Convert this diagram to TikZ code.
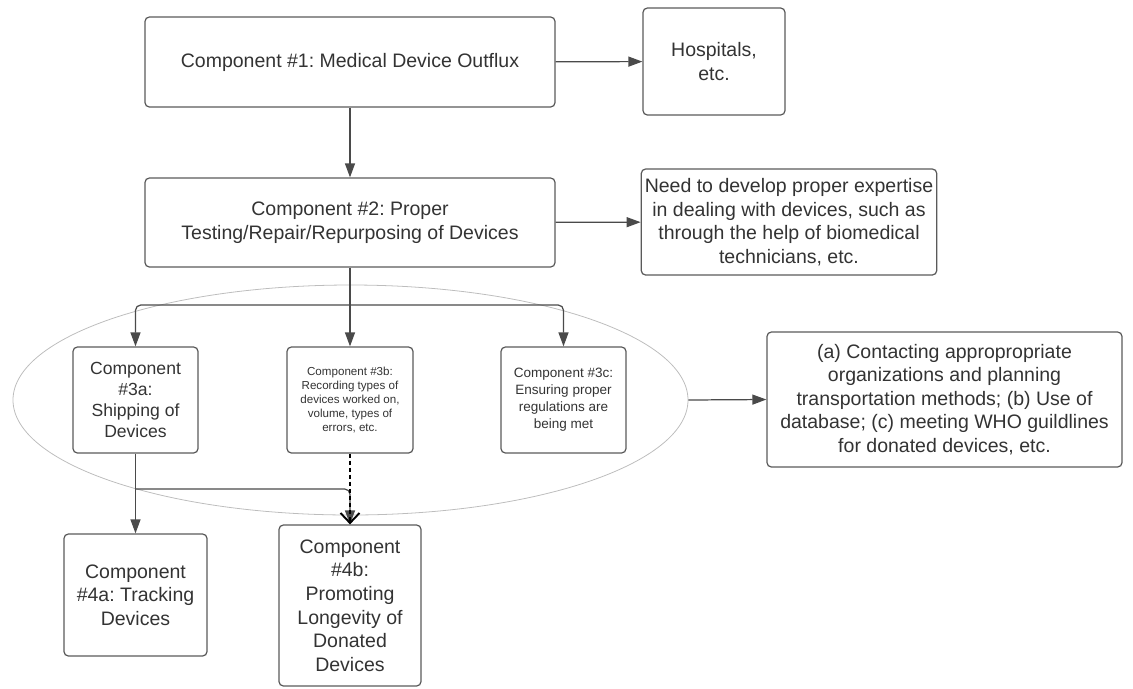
\documentclass[tikz,border=0pt]{standalone}
\usepackage{fontspec}
\setmainfont{Liberation Sans}
\usepackage{xcolor}
\usetikzlibrary{positioning, arrows.meta, shapes.geometric}
\definecolor{txtgray}{HTML}{333333}
\definecolor{linegray}{HTML}{4A4A4A}
\definecolor{boxgray}{HTML}{5A5A5A}
\definecolor{ovalgray}{HTML}{BDBDBD}
\frenchspacing

\begin{document}
\begin{tikzpicture}[
  comp/.style={rectangle, rounded corners=2.5pt, draw=boxgray, line width=0.7pt, align=center, inner sep=2pt, text=txtgray, font=\fontsize{11.1}{13.4}\selectfont},
  midbox/.style={comp, font=\fontsize{10}{12}\selectfont},
  tinybox/.style={comp, font=\fontsize{6.6}{8.1}\selectfont},
  smallbox/.style={comp, font=\fontsize{7.7}{9.7}\selectfont},
  oval/.style={ellipse, draw=ovalgray, line width=0.45pt, minimum width=13.5cm, minimum height=4.6cm},
  ar/.style={-{Triangle[length=2.8mm, width=2.0mm]}, line width=0.7pt, draw=linegray},
  ln/.style={line width=0.7pt, draw=linegray},
  dsh/.style={-{Straight Barb[length=2mm, width=3.8mm, line width=1.1pt]}, line width=0.8pt, draw=black, dash pattern=on 2.5pt off 1.5pt}
]
\useasboundingbox (0,0) rectangle (22.66,-13.76);

% group oval behind the third tier
\node[oval] (grp) at (7.01,-8.0) {};

\node[comp, minimum width=8.2cm, minimum height=1.8cm] (c1) at (7.0,-1.24) {Component \#1: Medical Device Outflux};
\node[comp, minimum width=2.84cm, minimum height=2.14cm] (hosp) at (14.28,-1.23) {Hospitals,\\etc.};

\node[comp, minimum width=8.2cm, minimum height=1.78cm] (c2) at (7.0,-4.45) {Component \#2: Proper\\Testing/Repair/Repurposing of Devices};
\node[comp, minimum width=5.84cm, minimum height=2.12cm] (need) at (15.78,-4.44) {Need to develop proper expertise\\in dealing with devices, such as\\through the help of biomedical\\technicians, etc.};

\node[midbox, minimum width=2.5cm, minimum height=2.12cm] (c3a) at (2.71,-8.0) {Component\\\#3a:\\Shipping of\\Devices};
\node[tinybox, minimum width=2.52cm, minimum height=2.12cm] (c3b) at (7.0,-8.0) {Component \#3b:\\Recording types of\\devices worked on,\\volume, types of\\errors, etc.};
\node[smallbox, minimum width=2.5cm, minimum height=2.12cm] (c3c) at (11.27,-8.0) {Component \#3c:\\Ensuring proper\\regulations are\\being met};

\node[comp, minimum width=7.1cm, minimum height=2.7cm] (plan) at (18.89,-7.99) {(a) Contacting appropropriate\\organizations and planning\\transportation methods; (b) Use of\\database; (c) meeting WHO guildlines\\for donated devices, etc.};

\node[comp, minimum width=2.86cm, minimum height=2.44cm] (c4a) at (2.71,-11.9) {Component\\\#4a: Tracking\\Devices};
\node[comp, minimum width=2.84cm, minimum height=3.22cm] (c4b) at (7.0,-12.11) {Component\\\#4b:\\Promoting\\Longevity of\\Donated\\Devices};

\coordinate (split) at (7.0,-6.1);
\coordinate (mrg) at (7.0,-9.78);

\draw[ar] (c1) -- (hosp);
\draw[ar] (c1) -- (c2);
\draw[ar] (c2) -- (need);

\draw[ar] (c2.south) -- (c3b.north);
\draw[ar, rounded corners=3pt] (split) -| (c3a.north);
\draw[ar, rounded corners=3pt] (split) -| (c3c.north);

\draw[ar] (grp.east) -- (plan.west);

\draw[ar] (c3a.south) -- (c4a.north);
\draw[ar, rounded corners=3pt] (c3a.south |- mrg) -- (mrg) -- (c4b.north);
\draw[dsh] (c3b.south) -- (c4b.north);

\end{tikzpicture}
\end{document}
